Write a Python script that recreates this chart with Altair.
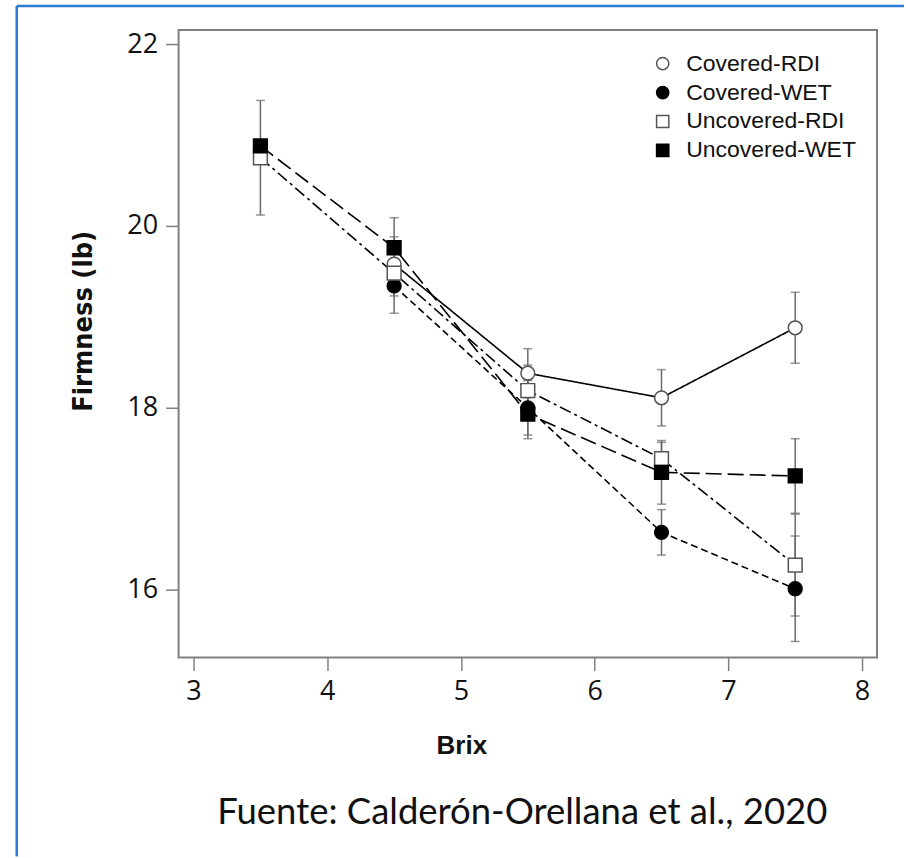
import altair as alt
import pandas as pd

brix = [3.5, 4.5, 5.5, 6.5, 7.5]
series_names = ["Covered-RDI", "Covered-WET", "Uncovered-RDI", "Uncovered-WET"]

covered_rdi = [None, 19.58, 18.38, 18.11, 18.88]
covered_rdi_err = [None, 0.30, 0.27, 0.31, 0.39]
covered_wet = [None, 19.34, 18.00, 16.63, 16.01]
covered_wet_err = [None, 0.30, 0.30, 0.25, 0.58]
uncovered_rdi = [20.75, 19.48, 18.19, 17.44, 16.27]
uncovered_rdi_err = [0.63, 0.25, 0.28, 0.18, 0.56]
uncovered_wet = [20.88, 19.76, 17.93, 17.29, 17.25]
uncovered_wet_err = [0.05, 0.33, 0.27, 0.35, 0.41]

x_ticks = [3, 4, 5, 6, 7, 8]
y_ticks = [16, 18, 20, 22]
caption = "Fuente: Calderón-Orellana et al., 2020"

means = [covered_rdi, covered_wet, uncovered_rdi, uncovered_wet]
errs = [covered_rdi_err, covered_wet_err, uncovered_rdi_err, uncovered_wet_err]

rows = []
for name, m, e in zip(series_names, means, errs):
    for b, v, s in zip(brix, m, e):
        if v is None:
            continue
        rows.append({"series": name, "style": name, "brix": b, "firmness": v,
                     "lo": v - s, "hi": v + s})
df = pd.DataFrame(rows)

W, H = 699, 628
PL, PT = 178, 29
SW = 2.5

xs = alt.Scale(domain=[2.888, 8.112], nice=False, zero=False)
ys = alt.Scale(domain=[15.253, 22.154], nice=False, zero=False)

X = alt.X("brix:Q", scale=xs,
          axis=alt.Axis(values=x_ticks, format="d", title="Brix", titleX=283, titleY=88,
                        titleAnchor="start", titleAlign="center", titleBaseline="middle"))
Y = alt.Y("firmness:Q", scale=ys,
          axis=alt.Axis(values=y_ticks, format="d", title="Firmness (lb)", titleX=-95, titleY=291,
                        titleAngle=-90, titleAlign="center", titleBaseline="middle",
                        titleFont="Liberation Sans Narrow, DejaVu Sans Condensed, Liberation Sans",
                        titleFontSize=27))

base = alt.Chart(df)

# domain comes from the data (alphabetical = series_names order)
dash_scale = alt.Scale(range=[[1, 0], [7, 4], [12, 4, 3, 4], [16, 6]])
lines = base.mark_line(color="black", strokeWidth=1.6).encode(
    x=X, y=Y,
    strokeDash=alt.StrokeDash("style:N", scale=dash_scale, legend=None),
    detail="series:N",
    order="brix:Q",
)

err_color = "#6a6a6a"
bars = base.mark_rule(color=err_color, strokeWidth=1.5).encode(
    x=alt.X("brix:Q", scale=xs), y=alt.Y("lo:Q", scale=ys), y2="hi:Q")
cap_hi = base.mark_tick(color=err_color, orient="horizontal", size=9, thickness=1.5).encode(
    x=alt.X("brix:Q", scale=xs), y=alt.Y("hi:Q", scale=ys))
cap_lo = base.mark_tick(color=err_color, orient="horizontal", size=9, thickness=1.5).encode(
    x=alt.X("brix:Q", scale=xs), y=alt.Y("lo:Q", scale=ys))

leg = alt.Legend(title=None, orient="none", legendX=473, legendY=22,
                 labelFont="Liberation Sans", labelFontSize=23, labelColor="#111",
                 labelLimit=400,
                 symbolSize=150, symbolStrokeWidth=1.5, labelOffset=12, rowPadding=5)

points = base.mark_point(filled=True, opacity=1, size=190, strokeWidth=1.5).encode(
    x=X, y=Y,
    shape=alt.Shape("series:N", scale=alt.Scale(domain=series_names,
                    range=["circle", "circle", "square", "square"]), legend=leg),
    fill=alt.Fill("series:N", scale=alt.Scale(domain=series_names,
                  range=["white", "black", "white", "black"]), legend=leg),
    stroke=alt.Stroke("series:N", scale=alt.Scale(domain=series_names,
                      range=["#555555", "black", "#555555", "black"]), legend=leg),
)

one = pd.DataFrame({"a": [0]})
blue = "#2a7bd0"
border_v = alt.Chart(one).mark_rule(color=blue, strokeWidth=SW).encode(
    x=alt.value(16 - PL), y=alt.value(5 - PT), y2=alt.value(856 - PT))
border_h = alt.Chart(one).mark_rule(color=blue, strokeWidth=SW).encode(
    x=alt.value(16 - PL), x2=alt.value(904 - PL), y=alt.value(5 - PT))

cap_text = alt.Chart(pd.DataFrame({"t": [caption]})).mark_text(
    font="Lato", fontSize=36.5, color="#111", align="center", baseline="middle"
).encode(text="t:N", x=alt.value(522 - PL), y=alt.value(813 - PT))

left_bound = 16 - SW / 2
top_bound = 5 - SW / 2

chart = alt.layer(border_v, border_h, bars, cap_hi, cap_lo, lines, points, cap_text).properties(
    width=W, height=H,
    padding={"left": left_bound, "top": top_bound, "right": 0, "bottom": 0},
    background="white",
).configure_view(
    stroke="#808080", strokeWidth=2
).configure_axis(
    domain=False, grid=False,
    tickColor="#808080", tickSize=13, tickWidth=1.5,
    labelFont="Open Sans", labelFontSize=27, labelColor="#111", labelPadding=8,
    titleFont="Liberation Sans", titleFontWeight="bold",
    titleFontSize=26, titleColor="#111",
)

chart.save("out.html", embed_options={"renderer": "svg", "actions": False})
